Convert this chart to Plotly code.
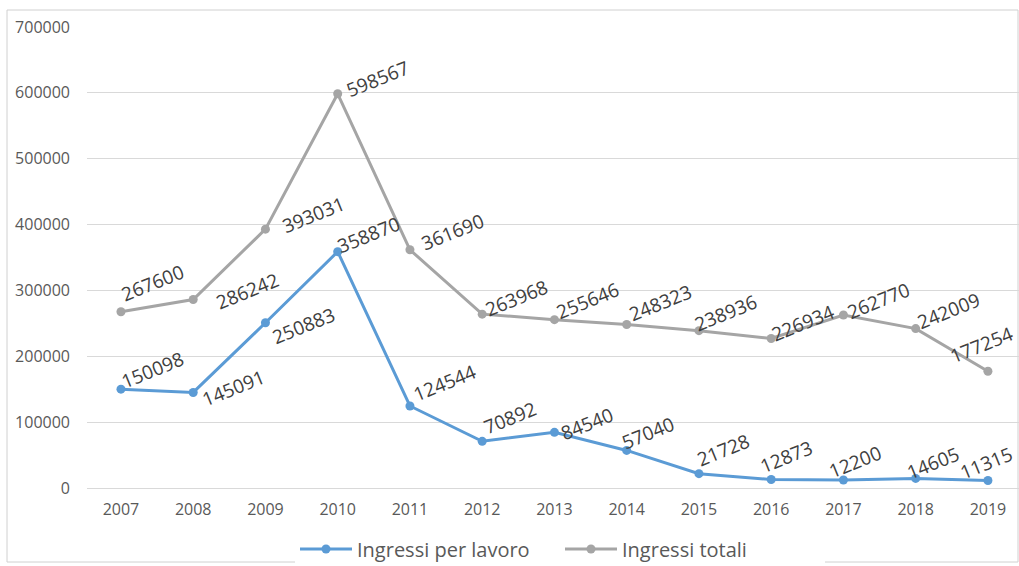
import plotly.graph_objects as go

years = ["2007", "2008", "2009", "2010", "2011", "2012", "2013",
         "2014", "2015", "2016", "2017", "2018", "2019"]
ingressi_lavoro = [150098, 145091, 250883, 358870, 124544, 70892, 84540,
                   57040, 21728, 12873, 12200, 14605, 11315]
ingressi_totali = [267600, 286242, 393031, 598567, 361690, 263968, 255646,
                   248323, 238936, 226934, 262770, 242009, 177254]
y_ticks = [0, 100000, 200000, 300000, 400000, 500000, 600000, 700000]

# data-label placement (pixel nudges from each point, like the original labels)
lavoro_label_dx = [1, 10, 7, 0, 4, 2, 7, -4, -1, -11, -14, -8, None]
lavoro_label_dy = [19, 4, -3, 17, 23, 23, 8, 17, 24, 23, 18, 15, 18]
totali_label_dx = [1, 24, 17, 9, 12, 4, 2, 3, -4, 1, 4, 2, None]
totali_label_dy = [29, 8, 14, 15, 18, 16, 19, 21, 18, 16, 14, 18, 26]

BLUE = "#5B9BD5"
GRAY = "#A5A5A5"
LABEL = "#404040"
TICK = "#595959"
FONT = "Open Sans"

W, H = 1019, 566
L, R, T, B = 87, 0, 27, 78
pw, ph = W - L - R, H - T - B

fig = go.Figure()
fig.add_trace(go.Scatter(
    x=years, y=ingressi_lavoro, name="Ingressi per lavoro",
    mode="lines+markers", line=dict(color=BLUE, width=3),
    marker=dict(color=BLUE, size=9)))
fig.add_trace(go.Scatter(
    x=years, y=ingressi_totali, name="Ingressi totali",
    mode="lines+markers", line=dict(color=GRAY, width=3),
    marker=dict(color=GRAY, size=9)))

annotations = []
for series, dxs, dys in ((ingressi_lavoro, lavoro_label_dx, lavoro_label_dy),
                         (ingressi_totali, totali_label_dx, totali_label_dy)):
    for i, v in enumerate(series):
        if dxs[i] is None:
            pos = dict(xanchor="right", xshift=31, yshift=dys[i])
        else:
            pos = dict(xanchor="left", xshift=dxs[i] - 7, yshift=dys[i])
        annotations.append(dict(
            x=i, y=v, xref="x", yref="y", text=str(v), showarrow=False,
            textangle=-22, yanchor="middle",
            font=dict(family=FONT, size=19, color=LABEL), **pos))

def px_x(p):
    return (p - L) / pw

def px_y(p):
    return (H - B - p) / ph

fig.update_layout(
    width=W, height=H,
    margin=dict(l=L, r=R, t=T, b=B, autoexpand=False),
    paper_bgcolor="white", plot_bgcolor="white",
    font=dict(family=FONT, color=TICK),
    showlegend=True,
    legend=dict(orientation="h", x=px_x(295), xanchor="left",
                y=px_y(549), yanchor="middle",
                font=dict(family=FONT, size=20, color=TICK),
                itemwidth=52, entrywidth=198, entrywidthmode="pixels"),
    annotations=annotations,
    shapes=[dict(type="rect", xref="paper", yref="paper",
                 x0=px_x(7), x1=px_x(1018), y0=px_y(562), y1=px_y(10),
                 line=dict(color="#D0D0D0", width=1), layer="below")],
    xaxis=dict(type="category", range=[-0.47, 12.43],
               showgrid=False, showline=False, zeroline=False,
               ticks="", ticklabelstandoff=10,
               tickfont=dict(family=FONT, size=16, color=TICK)),
    yaxis=dict(range=[0, 700000], tickvals=y_ticks,
               ticktext=[str(t) for t in y_ticks],
               showgrid=True, gridcolor="#D9D9D9", gridwidth=1,
               zeroline=True, zerolinecolor="#D9D9D9", zerolinewidth=1,
               showline=False, ticks="", ticklabelstandoff=16,
               tickfont=dict(family=FONT, size=16, color=TICK)),
)

fig.write_html("out.html")
